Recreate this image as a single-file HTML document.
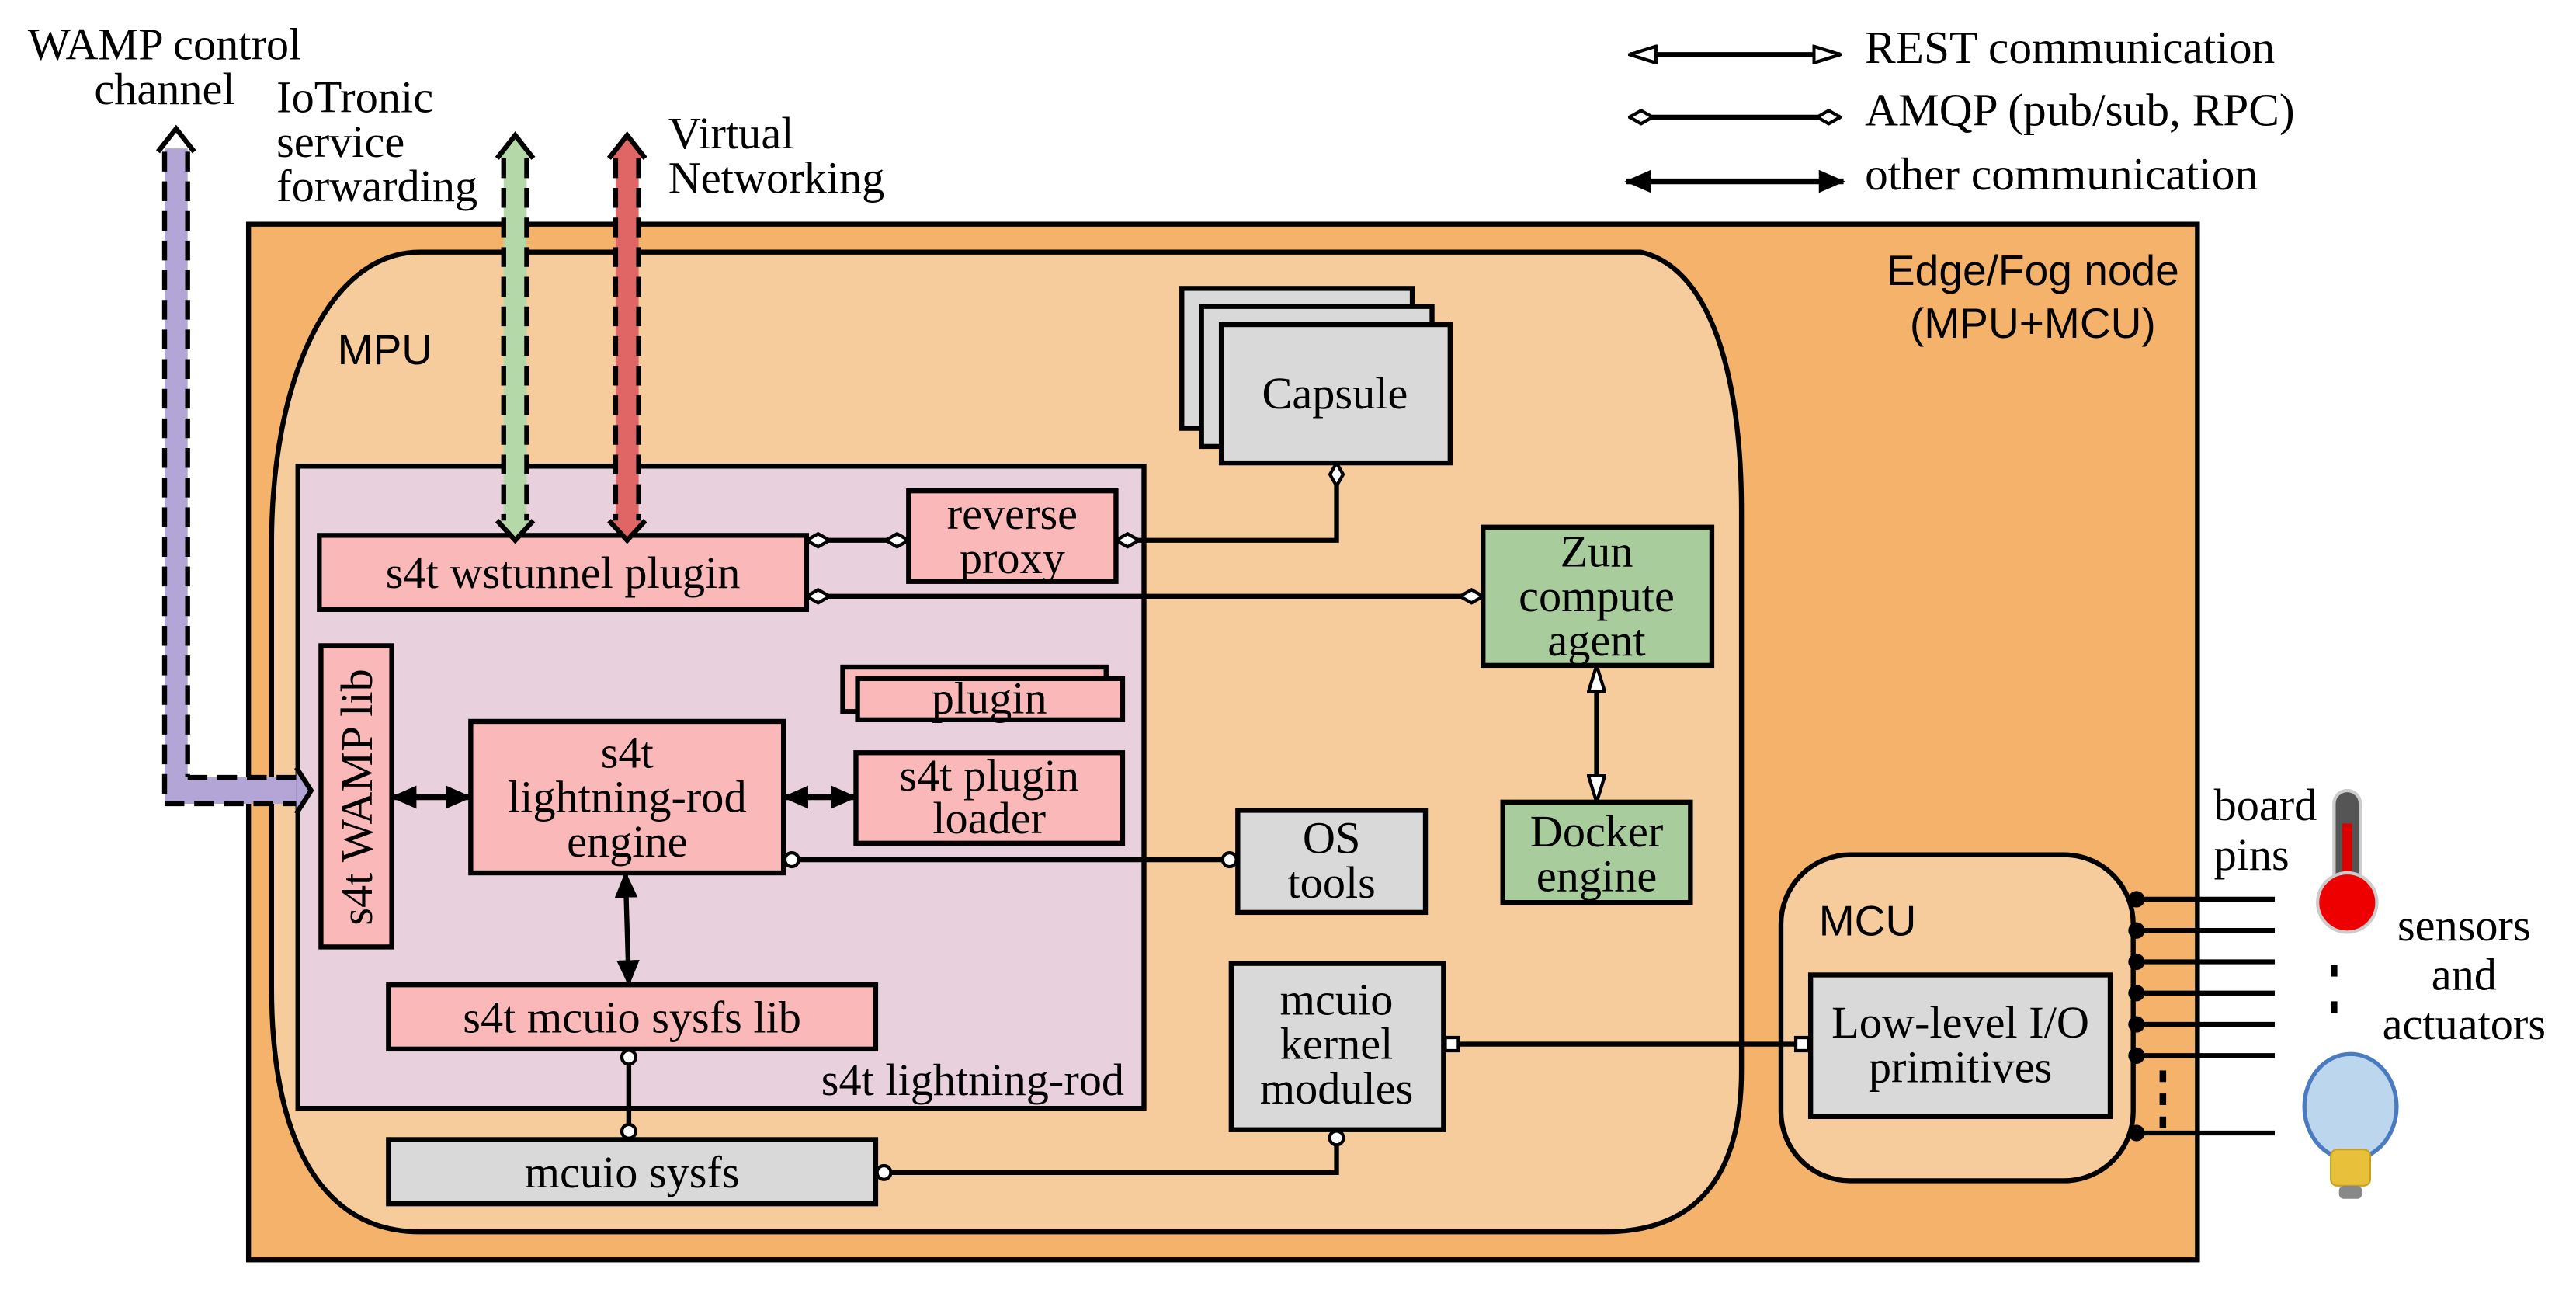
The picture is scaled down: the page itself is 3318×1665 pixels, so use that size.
<!DOCTYPE html>
<html><head><meta charset="utf-8"><style>
html,body{margin:0;padding:0;background:#fff;}
svg{display:block;}
.s{font-family:"Liberation Serif",serif;font-size:27.5px;fill:#000;}
.l{font-family:"Liberation Serif",serif;font-size:28px;fill:#000;}
.a{font-family:"Liberation Sans",sans-serif;font-size:26px;fill:#000;}
</style></head><body>
<svg width="3318" height="1665" viewBox="0 0 1565 785" xmlns="http://www.w3.org/2000/svg">
<defs>
<marker id="dm" viewBox="0 0 16 10" refX="15" refY="5" markerWidth="16" markerHeight="10" markerUnits="userSpaceOnUse" orient="auto-start-reverse"><path d="M1,5 L8,1 L15,5 L8,9 Z" fill="#fff" stroke="#000" stroke-width="2"/></marker>
<marker id="ci" viewBox="0 0 12 12" refX="11" refY="6" markerWidth="12" markerHeight="12" markerUnits="userSpaceOnUse" orient="auto-start-reverse"><circle cx="6" cy="6" r="4.2" fill="#fff" stroke="#000" stroke-width="2"/></marker>
<marker id="sq" viewBox="0 0 12 12" refX="11" refY="6" markerWidth="12" markerHeight="12" markerUnits="userSpaceOnUse" orient="auto-start-reverse"><rect x="2" y="2" width="8" height="8" fill="#fff" stroke="#000" stroke-width="2"/></marker>
<marker id="fa" viewBox="0 0 16 14" refX="15" refY="7" markerWidth="16" markerHeight="14" markerUnits="userSpaceOnUse" orient="auto-start-reverse"><path d="M0,0 L16,7 L0,14 Z" fill="#000"/></marker>
<marker id="ha" viewBox="0 0 18 12" refX="17" refY="6" markerWidth="18" markerHeight="12" markerUnits="userSpaceOnUse" orient="auto-start-reverse"><path d="M1,1 L17,6 L1,11 Z" fill="#fff" stroke="#000" stroke-width="2"/></marker>
</defs>

<!-- legend -->
<line x1="990" y1="33" x2="1118" y2="33" stroke="#000" stroke-width="3" marker-start="url(#ha)" marker-end="url(#ha)"/>
<text class="l" x="1133" y="38">REST communication</text>
<line x1="990" y1="71" x2="1118" y2="71" stroke="#000" stroke-width="3" marker-start="url(#dm)" marker-end="url(#dm)"/>
<text class="l" x="1133" y="76">AMQP (pub/sub, RPC)</text>
<line x1="988" y1="110" x2="1120" y2="110" stroke="#000" stroke-width="3.5" marker-start="url(#fa)" marker-end="url(#fa)"/>
<text class="l" x="1133" y="115">other communication</text>

<!-- top labels -->
<text class="s" x="100" y="36" text-anchor="middle">WAMP control</text>
<text class="s" x="100" y="63" text-anchor="middle">channel</text>
<text class="s" x="168" y="68">IoTronic</text>
<text class="s" x="168" y="95">service</text>
<text class="s" x="168" y="122">forwarding</text>
<text class="s" x="406" y="90">Virtual</text>
<text class="s" x="406" y="117">Networking</text>

<!-- outer edge node -->
<rect x="151" y="136" width="1184" height="629" fill="#F5B26B" stroke="#000" stroke-width="3"/>
<text class="a" x="1235" y="173" text-anchor="middle">Edge/Fog node</text>
<text class="a" x="1235" y="205" text-anchor="middle">(MPU+MCU)</text>

<!-- MPU -->
<path d="M255,153 L997,153 C1040,163 1058,230 1058,310 L1058,650 C1058,715 1030,748 975,748 L255,748 C200,748 165,700 165,600 L165,330 C165,230 200,153 255,153 Z" fill="#F7CC9C" stroke="#000" stroke-width="3"/>
<text class="a" x="205" y="221">MPU</text>

<!-- lightning-rod container -->
<rect x="181" y="283" width="514" height="390" fill="#E8D1DC" stroke="#000" stroke-width="3"/>
<text class="s" x="683" y="665" text-anchor="end">s4t lightning-rod</text>

<!-- capsule stack -->
<rect x="718" y="175" width="140" height="85" fill="#D9D9D9" stroke="#000" stroke-width="3"/>
<rect x="730" y="186" width="140" height="85" fill="#D9D9D9" stroke="#000" stroke-width="3"/>
<rect x="742" y="197" width="139" height="84" fill="#D9D9D9" stroke="#000" stroke-width="3"/>
<text class="s" x="811" y="248" text-anchor="middle">Capsule</text>

<!-- wstunnel plugin -->
<rect x="194" y="325" width="296" height="45" fill="#FBB8B8" stroke="#000" stroke-width="3"/>
<text class="s" x="342" y="357" text-anchor="middle">s4t wstunnel plugin</text>

<!-- reverse proxy -->
<rect x="552" y="298" width="126" height="55" fill="#FBB8B8" stroke="#000" stroke-width="3"/>
<text class="s" x="615" y="321" text-anchor="middle">reverse</text>
<text class="s" x="615" y="348" text-anchor="middle">proxy</text>

<!-- Zun -->
<rect x="901" y="320" width="139" height="84" fill="#A9CC9C" stroke="#000" stroke-width="3"/>
<text class="s" x="970" y="344" text-anchor="middle">Zun</text>
<text class="s" x="970" y="371" text-anchor="middle">compute</text>
<text class="s" x="970" y="398" text-anchor="middle">agent</text>

<!-- Docker -->
<rect x="913" y="487" width="114" height="61" fill="#A9CC9C" stroke="#000" stroke-width="3"/>
<text class="s" x="970" y="514" text-anchor="middle">Docker</text>
<text class="s" x="970" y="541" text-anchor="middle">engine</text>

<!-- plugin stack -->
<rect x="512" y="405" width="160" height="27" fill="#FBB8B8" stroke="#000" stroke-width="3"/>
<rect x="521" y="412" width="161" height="25" fill="#FBB8B8" stroke="#000" stroke-width="3"/>
<text class="s" x="601" y="433" text-anchor="middle">plugin</text>

<!-- plugin loader -->
<rect x="520" y="457" width="162" height="55" fill="#FBB8B8" stroke="#000" stroke-width="3"/>
<text class="s" x="601" y="480" text-anchor="middle">s4t plugin</text>
<text class="s" x="601" y="506" text-anchor="middle">loader</text>

<!-- engine -->
<rect x="286" y="438" width="190" height="92" fill="#FBB8B8" stroke="#000" stroke-width="3"/>
<text class="s" x="381" y="466" text-anchor="middle">s4t</text>
<text class="s" x="381" y="493" text-anchor="middle">lightning-rod</text>
<text class="s" x="381" y="520" text-anchor="middle">engine</text>

<!-- WAMP lib -->
<rect x="195" y="392" width="43" height="183" fill="#FBB8B8" stroke="#000" stroke-width="3"/>
<text class="s" transform="translate(226,484) rotate(-90)" text-anchor="middle">s4t WAMP lib</text>

<!-- OS tools -->
<rect x="752" y="492" width="114" height="62" fill="#D9D9D9" stroke="#000" stroke-width="3"/>
<text class="s" x="809" y="518" text-anchor="middle">OS</text>
<text class="s" x="809" y="545" text-anchor="middle">tools</text>

<!-- mcuio sysfs lib -->
<rect x="236" y="598" width="296" height="39" fill="#FBB8B8" stroke="#000" stroke-width="3"/>
<text class="s" x="384" y="627" text-anchor="middle">s4t mcuio sysfs lib</text>

<!-- mcuio sysfs -->
<rect x="236" y="692" width="296" height="39" fill="#D9D9D9" stroke="#000" stroke-width="3"/>
<text class="s" x="384" y="721" text-anchor="middle">mcuio sysfs</text>

<!-- kernel modules -->
<rect x="748" y="585" width="129" height="101" fill="#D9D9D9" stroke="#000" stroke-width="3"/>
<text class="s" x="812" y="616" text-anchor="middle">mcuio</text>
<text class="s" x="812" y="643" text-anchor="middle">kernel</text>
<text class="s" x="812" y="670" text-anchor="middle">modules</text>

<!-- MCU -->
<rect x="1082" y="519" width="214" height="198" rx="42" ry="42" fill="#F7CC9C" stroke="#000" stroke-width="3"/>
<text class="a" x="1105" y="568">MCU</text>
<rect x="1100" y="592" width="182" height="86" fill="#D9D9D9" stroke="#000" stroke-width="3"/>
<text class="s" x="1191" y="630" text-anchor="middle">Low-level I/O</text>
<text class="s" x="1191" y="657" text-anchor="middle">primitives</text>

<!-- pins -->
<g stroke="#000" stroke-width="3">
<line x1="1297" y1="546" x2="1382" y2="546"/><line x1="1297" y1="565" x2="1382" y2="565"/>
<line x1="1297" y1="584" x2="1382" y2="584"/><line x1="1297" y1="603" x2="1382" y2="603"/>
<line x1="1297" y1="622" x2="1382" y2="622"/><line x1="1297" y1="641" x2="1382" y2="641"/>
<line x1="1297" y1="688" x2="1382" y2="688"/>
</g>
<g fill="#000">
<circle cx="1298" cy="546" r="5"/><circle cx="1298" cy="565" r="5"/><circle cx="1298" cy="584" r="5"/>
<circle cx="1298" cy="603" r="5"/><circle cx="1298" cy="622" r="5"/><circle cx="1298" cy="641" r="5"/>
<circle cx="1298" cy="688" r="5"/>
<rect x="1312" y="650" width="4" height="7"/><rect x="1312" y="664" width="4" height="7"/><rect x="1312" y="678" width="4" height="7"/>
<rect x="1416" y="586" width="4" height="7"/><rect x="1416" y="608" width="4" height="7"/>
</g>
<text class="s" x="1345" y="498">board</text>
<text class="s" x="1345" y="528">pins</text>
<text class="s" x="1497" y="571" text-anchor="middle">sensors</text>
<text class="s" x="1497" y="601" text-anchor="middle">and</text>
<text class="s" x="1497" y="631" text-anchor="middle">actuators</text>

<!-- thermometer -->
<rect x="1418" y="480" width="16" height="60" rx="8" fill="#555" stroke="#ccc" stroke-width="2"/>
<rect x="1423" y="500" width="6" height="45" fill="#d00"/>
<circle cx="1426" cy="548" r="18" fill="#e00" stroke="#ccc" stroke-width="2"/>
<!-- bulb -->
<ellipse cx="1428" cy="672" rx="28" ry="32" fill="#bcd6ee" stroke="#4a7bc0" stroke-width="2.5"/>
<rect x="1416" y="698" width="24" height="22" rx="4" fill="#e8c03a" stroke="#c8a020"/>
<rect x="1421" y="720" width="14" height="8" rx="3" fill="#888"/>

<!-- connectors -->
<line x1="490" y1="328" x2="552" y2="328" stroke="#000" stroke-width="3" marker-start="url(#dm)" marker-end="url(#dm)"/>
<polyline points="678,328 812,328 812,281" fill="none" stroke="#000" stroke-width="3" marker-start="url(#dm)" marker-end="url(#dm)"/>
<line x1="490" y1="362" x2="901" y2="362" stroke="#000" stroke-width="3" marker-start="url(#dm)" marker-end="url(#dm)"/>
<line x1="970" y1="404" x2="970" y2="487" stroke="#000" stroke-width="3" marker-start="url(#ha)" marker-end="url(#ha)"/>
<line x1="238" y1="484" x2="286" y2="484" stroke="#000" stroke-width="3.5" marker-start="url(#fa)" marker-end="url(#fa)"/>
<line x1="476" y1="484" x2="520" y2="484" stroke="#000" stroke-width="3.5" marker-start="url(#fa)" marker-end="url(#fa)"/>
<line x1="380" y1="530" x2="382" y2="598" stroke="#000" stroke-width="3" marker-start="url(#fa)" marker-end="url(#fa)"/>
<line x1="476" y1="522" x2="752" y2="522" stroke="#000" stroke-width="3" marker-start="url(#ci)" marker-end="url(#ci)"/>
<line x1="382" y1="637" x2="382" y2="692" stroke="#000" stroke-width="3" marker-start="url(#ci)" marker-end="url(#ci)"/>
<polyline points="532,712 812,712 812,686" fill="none" stroke="#000" stroke-width="3" marker-start="url(#ci)" marker-end="url(#ci)"/>
<line x1="877" y1="634" x2="1100" y2="634" stroke="#000" stroke-width="3" marker-start="url(#sq)" marker-end="url(#sq)"/>

<!-- purple WAMP channel -->
<path d="M100,90 L100,488 L180,488 L180,472 L114,472 L114,90 Z" fill="#B3A6D6"/>
<g fill="none" stroke="#000" stroke-width="3" stroke-dasharray="12,6">
<line x1="100" y1="92" x2="100" y2="488"/>
<line x1="114" y1="92" x2="114" y2="472"/>
<line x1="100" y1="488" x2="182" y2="488"/>
<line x1="114" y1="472" x2="182" y2="472"/>
</g>
<path d="M96,92 L107,78 L118,92" fill="none" stroke="#000" stroke-width="3"/>
<path d="M180,466 L189,480 L180,494" fill="#B3A6D6" stroke="#000" stroke-width="3"/>

<!-- green -->
<rect x="306" y="92" width="14" height="226" fill="#B5D8A8"/>
<g stroke="#000" stroke-width="3" stroke-dasharray="12,6"><line x1="306" y1="96" x2="306" y2="318"/><line x1="320" y1="96" x2="320" y2="318"/></g>
<path d="M302,96 L313,82 L324,96" fill="#B5D8A8" stroke="#000" stroke-width="3"/>
<path d="M302,316 L313,328 L324,316" fill="#B5D8A8" stroke="#000" stroke-width="3"/>

<!-- red -->
<rect x="374" y="92" width="14" height="226" fill="#E06666"/>
<g stroke="#000" stroke-width="3" stroke-dasharray="12,6"><line x1="374" y1="96" x2="374" y2="318"/><line x1="388" y1="96" x2="388" y2="318"/></g>
<path d="M370,96 L381,82 L392,96" fill="#E06666" stroke="#000" stroke-width="3"/>
<path d="M370,316 L381,328 L392,316" fill="#E06666" stroke="#000" stroke-width="3"/>
</svg>
</body></html>
